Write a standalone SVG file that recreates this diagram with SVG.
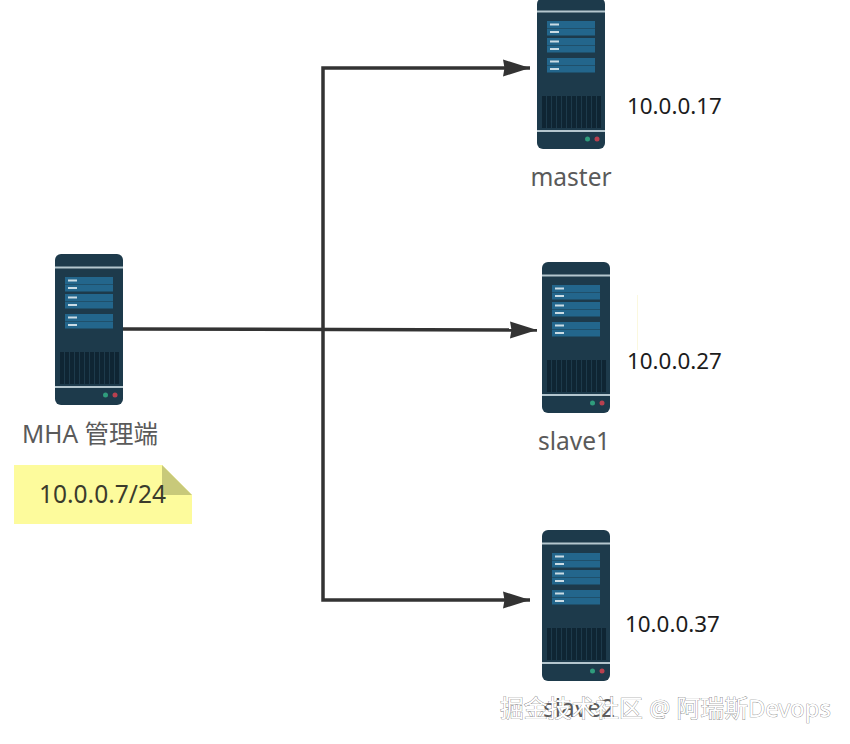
<svg xmlns="http://www.w3.org/2000/svg" width="850" height="744" viewBox="0 0 850 744">
<style>
text{font-family:"Noto Sans","Noto Sans CJK SC",sans-serif}
.ip{font-size:22.4px;fill:#1c1c1c}
.lb{font-size:24.500px;fill:#5a5a5a;text-anchor:middle}
.cn{fill:none;stroke:#333;stroke-width:3.500}
.wm{font-size:23.800px;fill:#fff;stroke:#777;stroke-width:.7px;paint-order:stroke}
</style>
<defs>
<marker id="ah" markerUnits="userSpaceOnUse" markerWidth="28" markerHeight="18" refX="27" refY="9" orient="auto"><path d="M0 .5L27 9L0 17.500L1.500 9Z" fill="#333"/></marker>
<symbol id="srv" width="68" height="151" viewBox="0 0 68 151" overflow="visible">
<rect width="68" height="151" rx="6" fill="#1d3a4b"/>
<rect y="12.500" width="68" height="2" fill="#b4c6ce"/>
<rect y="132" width="68" height="2" fill="#b4c6ce"/>
<g fill="#23668c">
<rect x="10" y="23" width="48" height="7"/><rect x="10" y="30.500" width="48" height="7"/>
<rect x="10" y="40" width="48" height="7"/><rect x="10" y="47.500" width="48" height="7"/>
<rect x="10" y="60" width="48" height="7"/><rect x="10" y="67.500" width="48" height="7"/>
</g>
<g fill="#c9dbe4">
<rect x="13" y="25.500" width="9" height="2"/><rect x="13" y="33" width="9" height="2"/>
<rect x="13" y="42.500" width="9" height="2"/><rect x="13" y="50" width="9" height="2"/>
<rect x="13" y="62.500" width="9" height="2"/><rect x="13" y="70" width="9" height="2"/>
</g>
<rect x="5" y="98" width="59" height="32" fill="#0f2533"/>
<path d="M9.500 98V130M14.500 98V130M19.500 98V130M24.500 98V130M29.500 98V130M34.500 98V130M39.500 98V130M44.500 98V130M49.500 98V130M54.500 98V130M59.500 98V130" stroke="#1d3a4b" stroke-width="1" fill="none"/>
<circle cx="50.500" cy="141" r="2.500" fill="#2f9c7c"/>
<circle cx="60" cy="141" r="2.500" fill="#b8404f"/>
</symbol>
</defs>
<rect width="850" height="744" fill="#fff"/>
<path d="M637.500 295V350" stroke="#fbf8df" stroke-width="1"/>
<g id="connectors">
<path class="cn" d="M123 329L537 330" marker-end="url(#ah)"/>
<path class="cn" d="M323 329V68H530" marker-end="url(#ah)"/>
<path class="cn" d="M323 329V600H530" marker-end="url(#ah)"/>
</g>
<g id="mha"><use href="#srv" x="55" y="254"/><text class="lb" x="90" y="443">MHA 管理端</text></g>
<g id="note">
<path d="M14 465H162L192 495V524H14Z" fill="#fdfb9c"/>
<path d="M162 465L192 495H162Z" fill="#c8c97a"/>
<text x="39" y="503" font-size="24.500" fill="#3b3b2c">10.0.0.7/24</text>
</g>
<g id="master"><use href="#srv" x="537" y="-2"/><text class="lb" x="571" y="186">master</text><text class="ip" x="627" y="114">10.0.0.17</text></g>
<g id="slave1"><use href="#srv" x="542" y="262"/><text class="lb" x="574" y="450">slave1</text><text class="ip" x="627" y="369">10.0.0.27</text></g>
<g id="slave2"><use href="#srv" x="542" y="530"/><text class="lb" x="579" y="717">slave2</text><text class="ip" x="625" y="632">10.0.0.37</text></g>
<text class="wm" x="500" y="717">掘金技术社区 @ 阿瑞斯Devops</text>
</svg>
